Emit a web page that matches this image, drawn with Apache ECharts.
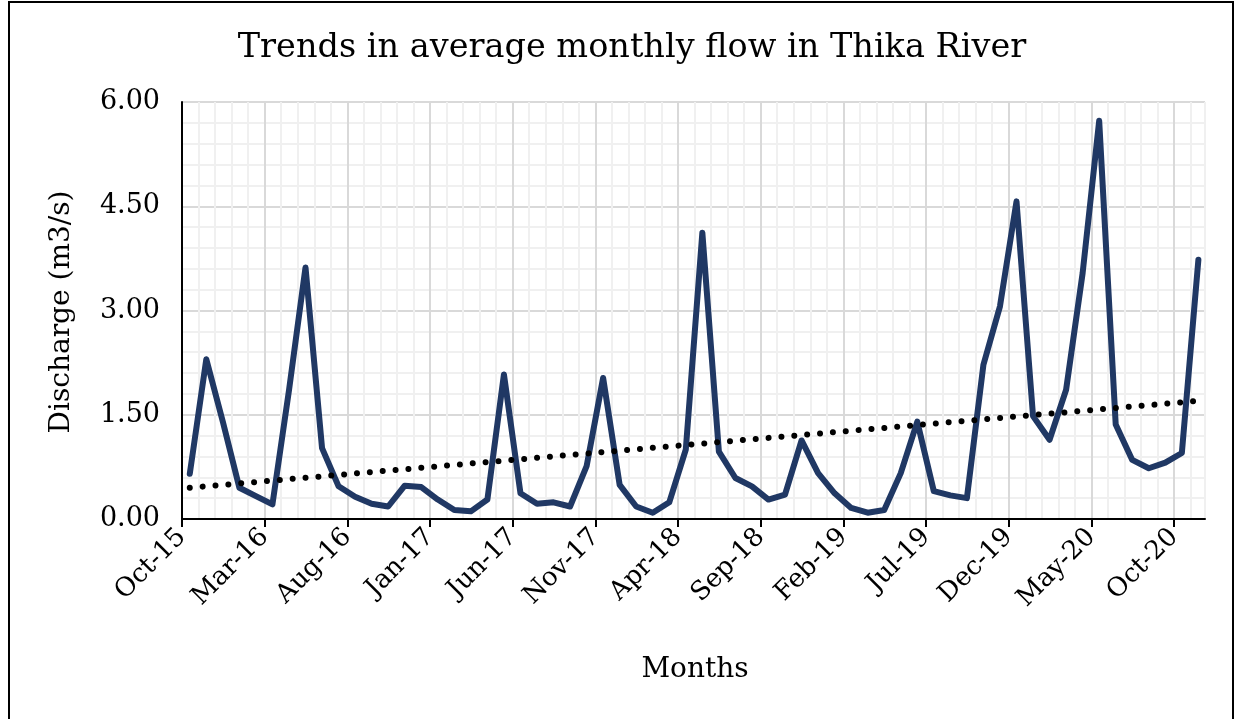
<!DOCTYPE html>
<html>
<head>
<meta charset="utf-8">
<title>Thika River flow</title>
<script src="https://cdn.jsdelivr.net/npm/echarts@6/dist/echarts.min.js"></script>
<style>
  html, body { margin: 0; padding: 0; background: #ffffff; }
  #chart { width: 1236px; height: 719px; }
</style>
</head>
<body>
<div id="chart"></div>
<script>
// Average monthly discharge (m3/s), Oct-2015 .. Nov-2020
const flow = [
  0.65, 2.30, 1.40, 0.45, 0.33, 0.21, 1.85, 3.62, 1.02, 0.47,
  0.32, 0.22, 0.18, 0.48, 0.46, 0.28, 0.13, 0.11, 0.28, 2.08,
  0.37, 0.22, 0.24, 0.18, 0.76, 2.03, 0.49, 0.18, 0.09, 0.24,
  1.00, 4.12, 0.97, 0.59, 0.47, 0.28, 0.35, 1.13, 0.66, 0.37,
  0.16, 0.09, 0.13, 0.66, 1.40, 0.40, 0.34, 0.30, 2.22, 3.06,
  4.57, 1.48, 1.14, 1.86, 3.54, 5.73, 1.36, 0.85, 0.73, 0.81,
  0.95, 3.73
];

// Linear trend (start and end values)
const trendEnds = [0.45, 1.70];

// Month labels on the time axis, one every five months
const tickLabels = ['Oct-15', 'Mar-16', 'Aug-16', 'Jan-17', 'Jun-17', 'Nov-17', 'Apr-18',
                    'Sep-18', 'Feb-19', 'Jul-19', 'Dec-19', 'May-20', 'Oct-20'];
const tickStep = 5;

// Discharge axis labels
const yTicks = [0, 1.5, 3, 4.5, 6];

// Readings fall mid-month; axis runs in months from 1 Oct 2015
const midMonth = 0.47;
const axisEnd = 61.87;

const flowData = flow.map((v, i) => [i + midMonth, v]);
const trendData = [
  [midMonth, trendEnds[0]],
  [flow.length - 1 + midMonth, trendEnds[1]]
];
const xTickValues = tickLabels.map((_, k) => k * tickStep);

const serif = '"DejaVu Serif", "Liberation Serif", serif';
const majorGrid = '#d9d9d9';
const minorGrid = '#f0f0f0';

// Axis used only for the fine (minor) gridlines
const minorAxis = (extra) => Object.assign({
  type: 'value',
  axisLine: { show: false },
  axisTick: { show: false },
  axisLabel: { show: false },
  splitLine: { show: true, lineStyle: { color: minorGrid, width: 2 } }
}, extra);

const chart = echarts.init(document.getElementById('chart'), null, { renderer: 'canvas' });

chart.setOption({
  animation: false,
  backgroundColor: '#ffffff',
  title: {
    text: 'Trends in average monthly flow in Thika River',
    left: 627,
    top: 26,
    textAlign: 'center',
    textStyle: { fontFamily: serif, fontWeight: 'normal', fontSize: 33.5, color: '#000000' }
  },
  grid: { left: 182, right: 31, top: 102, bottom: 200 },
  xAxis: [
    minorAxis({ min: 0, max: axisEnd, interval: 1, position: 'bottom' }),
    {
      type: 'value',
      position: 'bottom',
      min: 0,
      max: axisEnd,
      interval: tickStep,
      axisLine: { show: true, onZero: false, lineStyle: { color: '#000000', width: 2 } },
      axisTick: {
        show: true, customValues: xTickValues, length: 8, inside: false,
        lineStyle: { color: '#000000', width: 2 }
      },
      axisLabel: {
        customValues: xTickValues,
        rotate: 45,
        margin: 14,
        fontFamily: serif,
        fontSize: 26,
        color: '#000000',
        formatter: v => tickLabels[Math.round(v / tickStep)] || ''
      },
      splitLine: { show: true, lineStyle: { color: majorGrid, width: 2 } }
    }
  ],
  yAxis: [
    minorAxis({ min: 0, max: 6, interval: 0.3, position: 'left' }),
    {
      type: 'value',
      position: 'left',
      min: 0,
      max: 6,
      interval: 1.5,
      axisLine: { show: true, onZero: false, lineStyle: { color: '#000000', width: 2 } },
      axisTick: { show: false },
      axisLabel: {
        customValues: yTicks,
        margin: 22,
        fontFamily: serif,
        fontSize: 27,
        color: '#000000',
        formatter: v => v.toFixed(2)
      },
      splitLine: { show: true, lineStyle: { color: majorGrid, width: 2 } }
    }
  ],
  graphic: [
    {
      type: 'text',
      x: 62, y: 312,
      rotation: Math.PI / 2,
      style: {
        text: 'Discharge (m3/s)',
        fontFamily: serif, fontSize: 28, fill: '#000000',
        textAlign: 'center', textVerticalAlign: 'middle'
      }
    },
    {
      type: 'text',
      x: 695, y: 670,
      style: {
        text: 'Months',
        fontFamily: serif, fontSize: 28, fill: '#000000',
        textAlign: 'center', textVerticalAlign: 'middle'
      }
    },
    {
      type: 'rect',
      shape: { x: 9, y: 2, width: 1224, height: 740 },
      style: { fill: 'none', stroke: '#000000', lineWidth: 2 },
      silent: true
    }
  ],
  series: [
    {
      name: 'Discharge',
      type: 'line',
      xAxisIndex: 1,
      yAxisIndex: 1,
      data: flowData,
      showSymbol: false,
      lineStyle: { color: '#203864', width: 6, join: 'round', cap: 'round' },
      z: 3
    },
    {
      name: 'Linear trend',
      type: 'line',
      xAxisIndex: 1,
      yAxisIndex: 1,
      data: trendData,
      showSymbol: false,
      lineStyle: { color: '#000000', width: 6, type: [0.01, 12.9], cap: 'round' },
      z: 4
    }
  ]
});
</script>
</body>
</html>
